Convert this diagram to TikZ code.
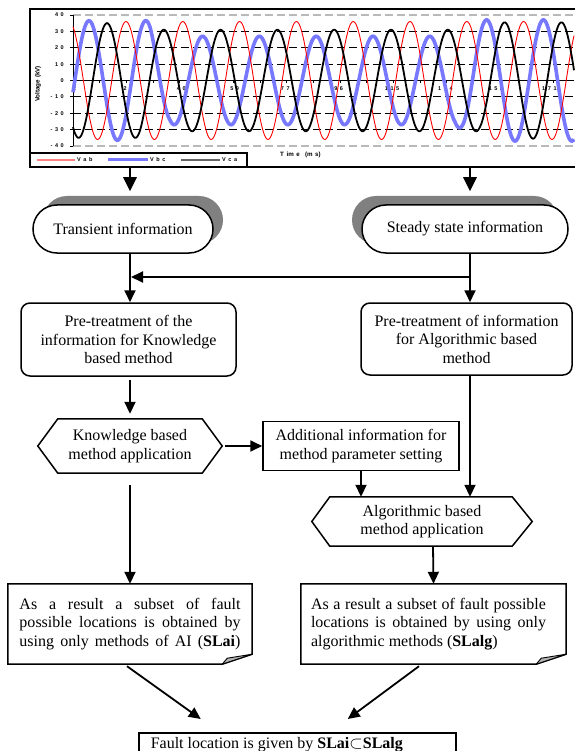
\documentclass[tikz,border=0pt]{standalone}
\usepackage{fontspec}
\setmainfont{Liberation Serif}
\newfontfamily\plotfont{Liberation Sans}
\usetikzlibrary{shadows,arrows.meta,calc}
\definecolor{shgray}{HTML}{808080}
\definecolor{wblue}{HTML}{7878FF}
\definecolor{lred}{HTML}{FF8080}
\newcommand\lsp{\hspace{2.6pt}}
\begin{document}
\begin{tikzpicture}[x=1pt,y=-1pt,
  arr/.style={line width=1.8pt,-{Triangle[length=12pt,width=11pt]}},
  bigarr/.style={line width=2.8pt,-{Triangle[length=14pt,width=13pt]}},
  txt/.style={font=\fontsize{16}{18.5}\selectfont,align=center,inner sep=0pt},
  box/.style={txt,draw,line width=1.5pt},
  term/.style={box,fill=white,rounded corners=24pt,minimum height=48pt},
  tick/.style={font=\plotfont\bfseries\fontsize{5.5}{6}\selectfont,inner sep=0pt},
  grid/.style={line width=0.9pt,dash pattern=on 8pt off 4pt},
  ggrid/.style={line width=1.2pt,gray!55,dash pattern=on 8pt off 4pt},
]
\useasboundingbox (0,0) rectangle (574,751);
\fill[white] (0,0) rectangle (574,751);

% ---------------- plot ----------------
\draw[line width=1.2pt] (576,9) -- (30,9) -- (30,167) -- (576,167);
\draw[ggrid] (73,{80.5-1.638*40}) -- (574,{80.5-1.638*40});
\draw[ggrid] (73,{80.5+1.638*40}) -- (574,{80.5+1.638*40});
\foreach \v in {30,20,10,-10,-20,-30}
  \draw[grid] (73,{80.5-1.638*\v}) -- (574,{80.5-1.638*\v});
\foreach \v in {40,30,...,-40}
  \draw[line width=0.8pt] (70,{80.5-1.638*\v}) -- (73,{80.5-1.638*\v});
\draw[line width=1pt] (73,80.5) -- (574,80.5);
\draw[line width=1pt] (73,{80.5-1.638*40}) -- (73,{80.5+1.638*40});
\foreach \k in {1,...,19}
  \draw[line width=0.7pt] ({73+26.7*\k},80.5) -- ({73+26.7*\k},83.5);

\foreach \v/\s [count=\i] in {40/4\lsp 0,30/3\lsp 0,20/2\lsp 0,10/1\lsp 0,0/0,
   -10/-\lsp 1\lsp 0,-20/-\lsp 2\lsp 0,-30/-\lsp 3\lsp 0,-40/-\lsp 4\lsp 0}
  \node[tick,anchor=east] (yl\i) at (64,{80.5-1.638*\v}) {\s};
\foreach \t/\s [count=\i] in {2/2,21/2\lsp 1,40/4\lsp 0,59/5\lsp 9,77/7\lsp 7,96/9\lsp 6,
   115/1\lsp 1\lsp 5,134/1\lsp 3\lsp 4,152/1\lsp 5\lsp 2,171/1\lsp 7\lsp 1}
  \node[tick] (xl\i) at ({74.5+(\t-2)*2.81},89) {\s};
\node[font=\plotfont\bfseries\fontsize{6.3}{7}\selectfont,rotate=90,inner sep=0pt] (ylab) at (38,84) {Voltage (kV)};
\node[tick,font=\plotfont\bfseries\fontsize{6.2}{7}\selectfont,anchor=west] (xlab) at (280,155) {T\lsp im\lsp e\lsp\lsp (m\lsp s)};

% waves
\draw[wblue,line width=3.6pt] plot[domain=73:574,samples=502]
  (\x,{80.5-1.638*(36.5-9.5*min(1,max(0,(\x-150)/20))+10*min(1,max(0,(\x-455)/20)))*cos(6.338*(\x-89))});
\draw[red,line width=0.9pt] plot[domain=73:574,samples=502]
  (\x,{80.5-1.638*36*cos(6.338*(\x-126))});
\draw[black,line width=1.8pt] plot[domain=73:574,samples=502]
  (\x,{80.5-1.638*(35-4*min(1,max(0,(\x-140)/20))+4.5*min(1,max(0,(\x-480)/20)))*cos(6.338*(\x-107))});

% legend
\fill[white] (30,153) rectangle (247,167);
\draw[line width=1.2pt] (30,153) -- (247,153) -- (247,167);
\draw[line width=1.2pt] (30,153) -- (30,167) -- (247,167);
\draw[lred,line width=1.2pt] (37,160) -- (75,160);
\node[tick,anchor=west] (lg1) at (77,159.5) {V\lsp a\lsp b};
\draw[wblue,line width=3pt] (108,160) -- (148,160);
\node[tick,anchor=west] (lg2) at (150,159.5) {V\lsp b\lsp c};
\draw[black!60,line width=1.5pt] (181,160) -- (220,160);
\node[tick,anchor=west] (lg3) at (222,159.5) {V\lsp c\lsp a};

% ---------------- flowchart ----------------
\node[term,minimum width=180pt,
  general shadow={fill=shgray,draw=none,shadow xshift=10pt,shadow yshift=9pt}]
  (tr) at (123,229) {Transient information};
\node[term,minimum width=206pt,
  general shadow={fill=shgray,draw=none,shadow xshift=-10pt,shadow yshift=9pt}]
  (ss) at (465,229) {Steady state information};

\coordinate (p1) at (130,167);
\coordinate (p2) at (470,167);
\draw[bigarr] (p1) -- ([xshift=7pt,yshift=13pt]tr.north);
\draw[bigarr] (p2) -- ([xshift=5pt,yshift=13pt]ss.north);

\node[box,rounded corners=9pt,minimum width=215pt,minimum height=73pt]
  (pl) at (128.5,339.5) {Pre-treatment of the\\information for Knowledge\\based method};
\node[box,rounded corners=9pt,minimum width=211pt,minimum height=72pt]
  (pr) at (466.5,339) {Pre-treatment of information\\for Algorithmic based\\method};

\draw[arr] ([xshift=7pt]tr.south) -- ([xshift=1.5pt]pl.north);
\draw[arr] ([xshift=5pt]ss.south) -- ([xshift=3.5pt]pr.north);
\coordinate (jr) at (470,277);
\coordinate (jl) at (131,277);
\draw[arr] (jr) -- (jl);

% hexagons
\node[txt,minimum width=184pt,minimum height=54pt] (kh) at (130,446) {Knowledge based\\method application};
\draw[line width=1.5pt] (kh.west) -- ([xshift=20pt]kh.north west) -- ([xshift=-20pt]kh.north east)
  -- (kh.east) -- ([xshift=-20pt]kh.south east) -- ([xshift=20pt]kh.south west) -- cycle;
\node[txt,minimum width=220pt,minimum height=49pt] (ah) at (422,521.5) {Algorithmic based\\method application};
\draw[line width=1.5pt] (ah.west) -- ([xshift=18pt]ah.north west) -- ([xshift=-20pt]ah.north east)
  -- (ah.east) -- ([xshift=-20pt]ah.south east) -- ([xshift=18pt]ah.south west) -- cycle;

\node[box,minimum width=196pt,minimum height=49pt] (ad) at (361,446) {Additional information for\\method parameter setting};

\draw[arr] ([xshift=1.5pt,yshift=-3pt]pl.south) -- ([yshift=5pt]kh.north);
\draw[arr] ([xshift=3pt]kh.east) -- (ad.west);
\draw[arr] (ad.south) -- ([xshift=-61pt]ah.north);
\draw[arr] ([xshift=3.5pt]pr.south) -- ([xshift=48pt]ah.north);

% result documents
\node[txt,minimum width=244pt,minimum height=80pt] (r1) at (130,624)
  {\makebox[221pt][s]{As a result a subset of fault}\\
   \makebox[221pt][s]{possible locations is obtained by}\\
   \makebox[221pt][s]{using only methods of AI (\textbf{SLai})}};
\node[txt,minimum width=265pt,minimum height=80pt] (r2) at (433.5,624)
  {\hspace*{-10pt}\makebox[235pt][s]{As a result a subset of fault possible}\\
   \hspace*{-10pt}\makebox[235pt][s]{locations is obtained by using only}\\
   \hspace*{-10pt}\makebox[235pt][l]{algorithmic methods (\textbf{SLalg})}};
\foreach \n in {r1,r2}{
  \draw[line width=1.5pt] (\n.north west) -- (\n.north east) -- ([yshift=10pt]\n.south east)
    -- ([xshift=-30pt]\n.south east) -- (\n.south west) -- cycle;
  \filldraw[fill=gray!60,line width=0.9pt] ([xshift=-30pt]\n.south east) -- ([xshift=-25pt,yshift=6pt]\n.south east)
    -- ([yshift=10pt]\n.south east) -- cycle;
}

\draw[arr] ([yshift=-12pt]kh.south) -- (r1.north);
\draw[arr] ([xshift=11pt]ah.south) -- (r2.north);

\node[box,anchor=north west,minimum width=317pt,minimum height=24pt] (fin) at (138,732)
  {\makebox[293pt][l]{Fault location is given by \textbf{SLai$\subset$SLalg}}};

\draw[arr] ([xshift=-3pt,yshift=-2pt]r1.south) -- ([xshift=-96.5pt,yshift=13pt]fin.north);
\draw[arr] ([xshift=-14.5pt,yshift=-2pt]r2.south) -- ([xshift=50.5pt,yshift=13pt]fin.north);
\end{tikzpicture}
\end{document}
